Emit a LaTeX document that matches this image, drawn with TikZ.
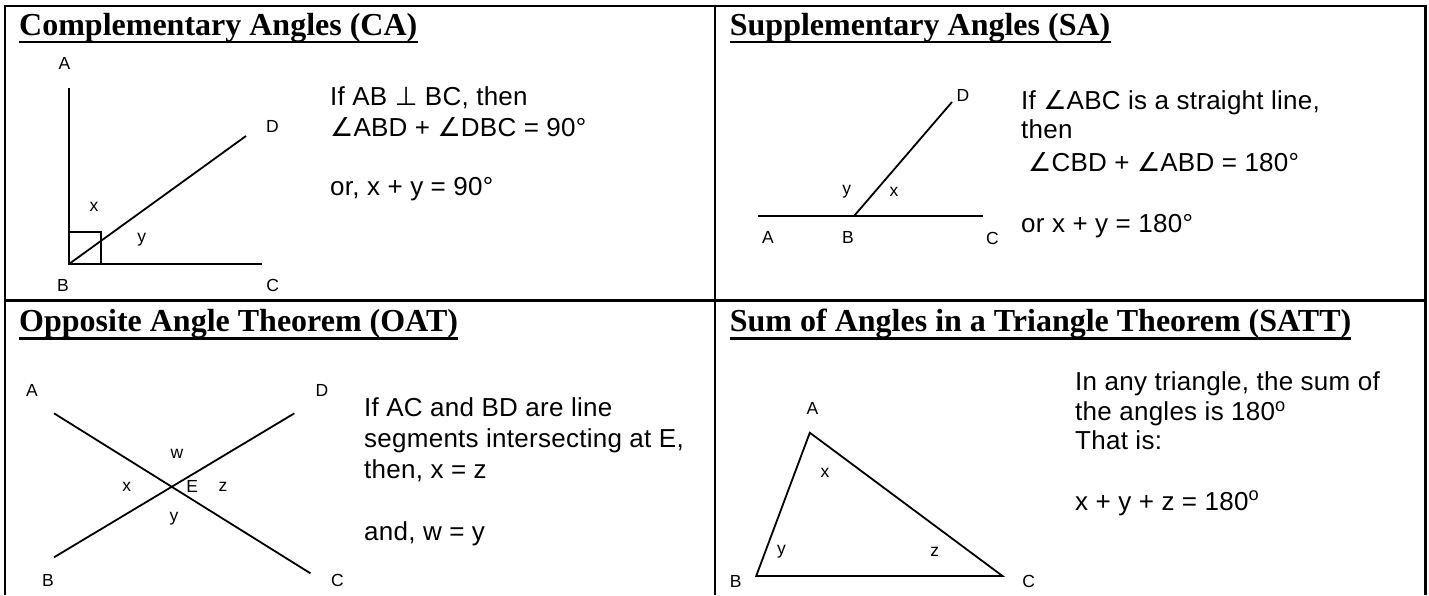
\documentclass[tikz,border=0pt]{standalone}
\usepackage{fontspec}
\setmainfont{Liberation Sans}
\newfontfamily\titlefont{Liberation Serif}
\newfontfamily\bodyfont[LetterSpace=1]{Liberation Sans}
\newfontfamily\symfont{DejaVu Sans}
\newcommand{\ang}{{\symfont\char"2220}}
\newcommand{\perpsym}{{\symfont\char"22A5}}
\tikzset{
  frame/.style={line width=2.5pt},
  geo/.style={line width=1.8pt, line cap=butt},
  uline/.style={line width=2.5pt},
  ttl/.style={inner sep=0pt, anchor=base west, font=\titlefont\bfseries\fontsize{32}{36}\selectfont},
  body/.style={inner sep=0pt, anchor=base west, font=\bodyfont\fontsize{26}{30}\selectfont},
  lbl/.style={inner sep=0pt, anchor=center, font=\fontsize{17.5}{20}\selectfont},
}
\begin{document}
\begin{tikzpicture}[x=1pt,y=-1pt]
\useasboundingbox (0,0) rectangle (1429,595);
% table frame
\draw[frame] (5,595) -- (5,6) -- (1425.5,6) -- (1425.5,595);
\draw[frame] (5,300.7) -- (1425.5,300.7);
\draw[frame] (715,6) -- (715,595);

% ---------- Complementary Angles ----------
\node[ttl] (caT) at (19,35) {Complementary Angles (CA)};
\draw[uline] ([yshift=-6.8pt]caT.base west) -- ([yshift=-6.8pt]caT.base east);
\coordinate (caA) at (69,88);
\coordinate (caB) at (69,264);
\coordinate (caC) at (262,264);
\coordinate (caD) at (246,136);
\draw[geo] (caA) -- (caB) -- (caC);
\draw[geo] (caB) -- (caD);
\draw[geo] (caB) rectangle ++(32,-32);
\node[lbl] (caLA) at (64.5,63) {A};
\node[lbl] (caLD) at (272.5,126) {D};
\node[lbl] (caLx) at (94,207) {x};
\node[lbl] (caLy) at (141.7,240) {y};
\node[lbl] (caLB) at (63,285) {B};
\node[lbl] (caLC) at (272.7,285) {C};
\node[body] (caS1) at (330,105) {If AB \perpsym\ BC, then};
\node[body] (caS2) at (330,136) {\ang ABD + \ang DBC = 90°};
\node[body] (caS3) at (330,195) {or, x + y = 90°};

% ---------- Supplementary Angles ----------
\node[ttl] (saT) at (729.7,35) {Supplementary Angles (SA)};
\draw[uline] ([yshift=-6.8pt]saT.base west) -- ([yshift=-6.8pt]saT.base east);
\coordinate (saA) at (758,215.7);
\coordinate (saB) at (854.3,215.7);
\coordinate (saC) at (982.7,215.7);
\coordinate (saD) at (952,102);
\draw[geo] (saA) -- (saC);
\draw[geo] (saB) -- (saD);
\node[lbl] (saLD) at (963,95) {D};
\node[lbl] (saLy) at (846.7,191.7) {y};
\node[lbl] (saLx) at (894,192) {x};
\node[lbl] (saLA) at (768,237) {A};
\node[lbl] (saLB) at (848,237) {B};
\node[lbl] (saLC) at (992.5,238) {C};
\node[body] (saS1) at (1021,109) {If \ang ABC is a straight line,};
\node[body] (saS2) at (1021,138) {then};
\node[body] (saS3) at (1028,171) {\ang CBD + \ang ABD = 180°};
\node[body] (saS4) at (1021,232) {or x + y = 180°};

% ---------- Opposite Angle Theorem ----------
\node[ttl] (oaT) at (19,331.7) {Opposite Angle Theorem (OAT)};
\draw[uline] ([yshift=-6.8pt]oaT.base west) -- ([yshift=-6.8pt]oaT.base east);
\coordinate (oaA) at (54,413.3);
\coordinate (oaC) at (310.4,573.3);
\coordinate (oaB) at (54,557.3);
\coordinate (oaD) at (294.4,413.3);
\draw[geo] (oaA) -- (oaC);
\draw[geo] (oaB) -- (oaD);
\node[lbl] (oaLA) at (32,390) {A};
\node[lbl] (oaLD) at (322,390) {D};
\node[lbl] (oaLB) at (48,580) {B};
\node[lbl] (oaLC) at (337.5,580) {C};
\node[lbl] (oaLw) at (177,454.3) {w};
\node[lbl] (oaLx) at (126.8,486.7) {x};
\node[lbl] (oaLE) at (192.3,486.7) {E};
\node[lbl] (oaLz) at (223,486.7) {z};
\node[lbl] (oaLy) at (174,518.3) {y};
\node[body] (oaS1) at (364,416.7) {If AC and BD are line};
\node[body] (oaS2) at (364,447.7) {segments intersecting at E,};
\node[body] (oaS3) at (364,478.5) {then, x = z};
\node[body] (oaS4) at (364,540) {and, w = y};

% ---------- Sum of Angles in a Triangle ----------
\node[ttl] (stT) at (729.7,331.7) {Sum of Angles in a Triangle Theorem (SATT)};
\draw[uline] ([yshift=-6.8pt]stT.base west) -- ([yshift=-6.8pt]stT.base east);
\coordinate (stA) at (809.8,432.7);
\coordinate (stB) at (756.2,576);
\coordinate (stC) at (1002.5,576);
\draw[geo, line join=miter] (stA) -- (stB) -- (stC) -- cycle;
\node[lbl] (stLA) at (812.5,408.3) {A};
\node[lbl] (stLx) at (824.9,473.3) {x};
\node[lbl] (stLy) at (781.4,551.7) {y};
\node[lbl] (stLz) at (934.8,551.7) {z};
\node[lbl] (stLB) at (735.6,581.7) {B};
\node[lbl] (stLC) at (1028.6,581.7) {C};
\node[body] (stS1) at (1075,390.5) {In any triangle, the sum of};
\node[body] (stS2) at (1075,420.5) {the angles is 180\textsuperscript{o}};
\node[body] (stS3) at (1075,449.5) {That is:};
\node[body] (stS4) at (1075,510) {x + y + z = 180\textsuperscript{o}};
\end{tikzpicture}
\end{document}
